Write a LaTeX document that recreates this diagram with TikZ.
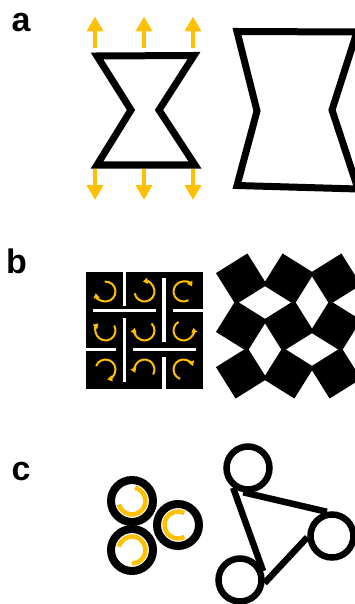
\documentclass[tikz,border=0pt]{standalone}
\usepackage{fontspec}
\setmainfont{Liberation Sans}
\usetikzlibrary{arrows.meta}
\definecolor{gold}{RGB}{255,192,0}
\tikzset{
  panellabel/.style={inner sep=0pt, anchor=base west, font=\fontsize{34}{40}\selectfont\bfseries},
  frame/.style={line width=7pt, line join=miter},
  pull/.style={gold, line width=4pt, -{Triangle[width=16pt,length=15pt]}},
  spin/.style={gold, line width=2pt, -{Triangle[width=6pt,length=5pt]}},
  slit/.style={white, line width=3.5pt},
  ring/.style={circle, draw, line width=8pt, minimum size=42pt, inner sep=0pt},
  link/.style={line width=6.5pt},
}
\begin{document}
\begin{tikzpicture}[x=1pt, y=-1pt]
  \useasboundingbox (0,0) rectangle (355,604);
  % ラベル
  \node[panellabel] (la) at (11.5,32) {a};
  \node[panellabel] (lb) at (6,273) {b};
  \node[panellabel] (lc) at (11.5,480) {c};

  % (a) 砂時計形セルと引張
  \draw[frame] (97,56) -- (194,55.5) -- (159,110) -- (195,165) -- (97,165) -- (131,110) -- cycle;
  \foreach \x in {95,144,193} {
    \draw[pull] (\x,48.5) -- (\x,16.5);
    \draw[pull] (\x,169) -- (\x,200);
  }
  % (a) 変形後
  \draw[frame] (237,31.5) -- (357,32) -- (332,110) -- (358,189) -- (237,185.5) -- (257,111) -- cycle;

  % (b) 切り込み入りシート
  \fill (86,272) rectangle (203,389);
  \draw[slit] (124.5,271) -- (124.5,306);
  \draw[slit] (92.5,310.5) -- (155.5,310.5);
  \draw[slit] (163.8,278) -- (163.8,342);
  \draw[slit] (173,310.5) -- (204,310.5);
  \draw[slit] (124.5,318) -- (124.5,382);
  \draw[slit] (85,349.5) -- (116,349.5);
  \draw[slit] (132.5,349.5) -- (196,349.5);
  \draw[slit] (163.8,357) -- (163.8,390);
  % (b) 回転方向
  \foreach \cx/\cy/\s/\e in {105.5/291.5/-95/170, 144.5/291.5/-190/-460, 183.5/291.5/60/330,
      105.5/330.5/-30/225, 144.5/330.5/-45/195, 183.5/330.5/-120/-375,
      105.5/369.5/-160/80, 144.5/369.5/30/-200, 183.5/369.5/110/340}
    \draw[spin] (\cx,\cy) ++(\s:10) arc[start angle=\s, end angle=\e, radius=10];
  % (b) 展開後の回転正方形
  \foreach \i in {0,1,2}
    \foreach \j in {0,1,2} {
      \pgfmathsetmacro\t{ifthenelse(mod(\i+\j,2)==0,-32,32)}
      \fill[shift={(241.5+47*\j,279+47*\i)}] (45+\t:26.2) -- (135+\t:26.2) -- (225+\t:26.2) -- (315+\t:26.2) -- cycle;
    }

  % (c) キラル構造
  \node[ring] (r1) at (132,501) {};
  \node[ring] (r2) at (178,525) {};
  \node[ring] (r3) at (132,550) {};
  \foreach \cx/\cy/\s/\e in {132/501/-77/165, 178/525/-62/-298, 132/550/-166/90}
    \draw[gold, line width=4.5pt] (\cx,\cy) ++(\s:13.5) arc[start angle=\s, end angle=\e, radius=13.5];
  % (c) 変形後
  \node[ring, line width=6.5pt, minimum size=43pt] (ta) at (248,468) {};
  \node[ring, line width=6.5pt, minimum size=43pt] (tb) at (332,536) {};
  \node[ring, line width=6.5pt, minimum size=43pt] (tc) at (240,580) {};
  \draw[link] (ta.233) -- (tc.21);
  \draw[link] (ta.259) -- (tb.102);
  \draw[link] (tb.183) -- (tc.-7);
\end{tikzpicture}
\end{document}
